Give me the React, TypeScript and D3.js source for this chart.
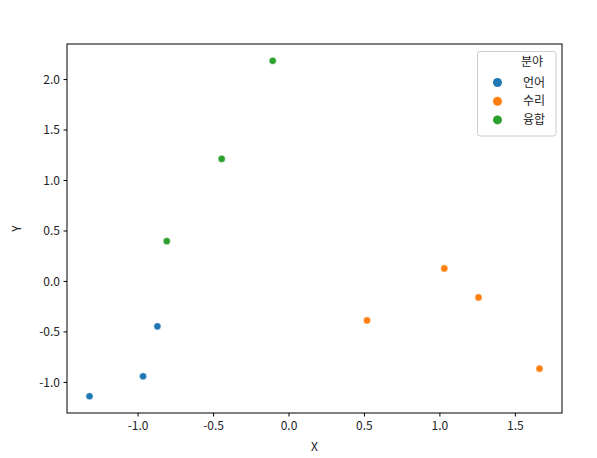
import React from "react";
import * as d3 from "d3";

const groups = ["언어", "수리", "융합"];
const colors = ["#1f77b4", "#ff7f0e", "#2ca02c"];
const xVals = [-1.322, -0.967, -0.872, 0.517, 1.029, 1.256, 1.66, -0.81, -0.446, -0.108];
const yVals = [-1.137, -0.94, -0.445, -0.386, 0.129, -0.158, -0.864, 0.399, 1.214, 2.186];
const pointGroup = ["언어", "언어", "언어", "수리", "수리", "수리", "수리", "융합", "융합", "융합"];
const xTicks = [-1.0, -0.5, 0.0, 0.5, 1.0, 1.5];
const yTicks = [-1.0, -0.5, 0.0, 0.5, 1.0, 1.5, 2.0];

const W = 597;
const H = 458;
const FONT = "'Noto Sans CJK KR', 'Noto Sans', sans-serif";

export default function App() {
  const left = 67, right = 562, top = 44, bottom = 413;

  // matplotlib-style 5% margins around the data
  const [x0, x1] = d3.extent(xVals) as [number, number];
  const [y0, y1] = d3.extent(yVals) as [number, number];
  const mx = (x1 - x0) * 0.05;
  const my = (y1 - y0) * 0.05;
  const x = d3.scaleLinear().domain([x0 - mx, x1 + mx]).range([left, right]);
  const y = d3.scaleLinear().domain([y0 - my, y1 + my]).range([bottom, top]);
  const color = d3.scaleOrdinal<string, string>().domain(groups).range(colors);

  const lgX = 477.5, lgY = 51.5, lgW = 78.5, lgH = 84.5;

  return (
    <svg width={W} height={H} style={{ position: "absolute", left: 0, top: 0, background: "#fff" }}
      fontFamily={FONT}>
      <rect x={0} y={0} width={W} height={H} fill="#fff" />

      {xVals.map((v, i) => (
        <circle key={i} cx={x(v)} cy={y(yVals[i])} r={3.6} fill={color(pointGroup[i])}
          stroke="#fff" strokeWidth={0.5} />
      ))}

      <rect x={left} y={top} width={right - left} height={bottom - top} fill="none" stroke="#000" strokeWidth={1} />

      {xTicks.map(t => (
        <g key={t} transform={`translate(${x(t)},${bottom})`}>
          <line y1={0} y2={3.5} stroke="#000" />
          <text y={17} textAnchor="middle" fontSize={12} fill="#222">{t.toFixed(1)}</text>
        </g>
      ))}
      {yTicks.map(t => (
        <g key={t} transform={`translate(${left},${y(t)})`}>
          <line x1={0} x2={-3.5} stroke="#000" />
          <text x={-7} dy="0.35em" textAnchor="end" fontSize={12} fill="#222">{t.toFixed(1)}</text>
        </g>
      ))}

      <text x={(left + right) / 2} y={451} textAnchor="middle" fontSize={12} fill="#222">X</text>
      <text transform={`translate(21,${(top + bottom) / 2}) rotate(-90)`} textAnchor="middle" fontSize={12} fill="#222">Y</text>

      <rect x={lgX} y={lgY} width={lgW} height={lgH} rx={2.5} fill="#fff" fillOpacity={0.8} stroke="#ccc" />
      <text x={532} y={62} dy="0.35em" textAnchor="middle" fontSize={12} fill="#222">분야</text>
      {groups.map((g, i) => (
        <g key={g} transform={`translate(0,${82.5 + i * 18.7})`}>
          <circle cx={497.5} cy={0} r={4.5} fill={color(g)} />
          <text x={523} dy="0.35em" fontSize={12} fill="#222">{g}</text>
        </g>
      ))}
    </svg>
  );
}
